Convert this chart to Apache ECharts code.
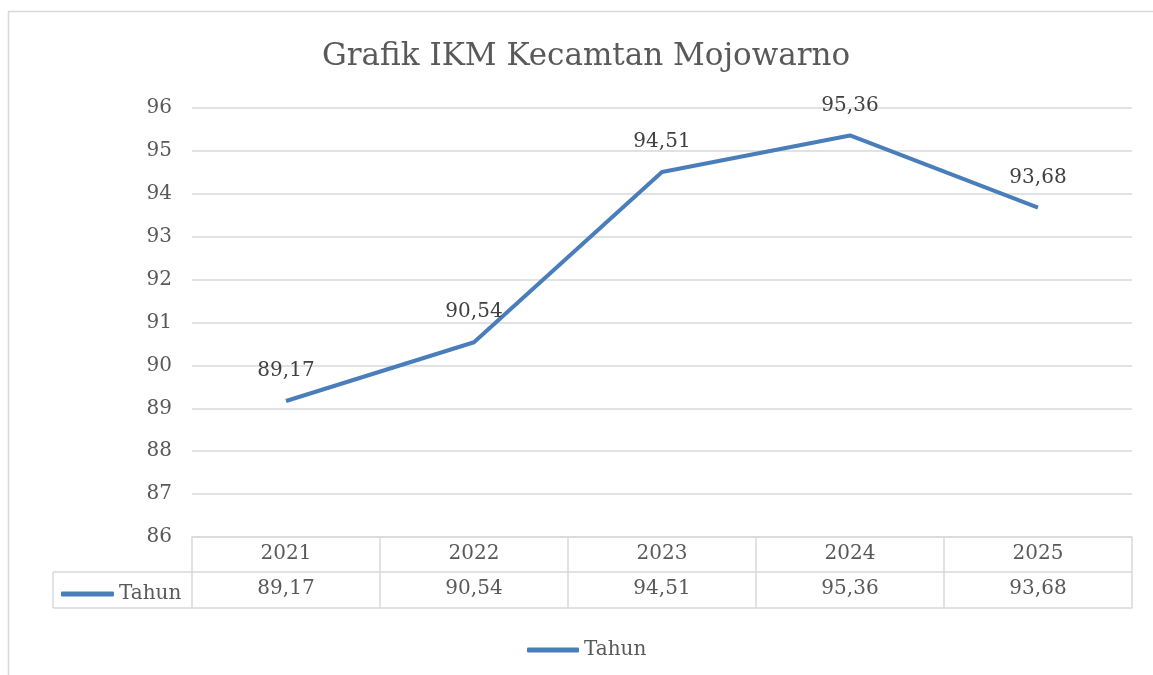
<!DOCTYPE html>
<html><head><meta charset="utf-8">
<script src="https://cdn.jsdelivr.net/npm/echarts@6/dist/echarts.min.js"></script>
<style>html,body{margin:0;padding:0;background:#fff}#c{width:1153px;height:675px}</style>
</head><body><div id="c"></div>
<script>
var categories = ['2021', '2022', '2023', '2024', '2025'];
var values = [89.17, 90.54, 94.51, 95.36, 93.68];
var seriesName = 'Tahun';
var titleText = 'Grafik IKM Kecamtan Mojowarno';

var FONT = 'DejaVu Serif';
var TXT = '#595959';
var GRID = '#d9d9d9';
var BLUE = '#4a7ebb';
function fmt(v){ return v.toFixed(2).replace('.', ','); }

var chart = echarts.init(document.getElementById('c'));
var gl = 192, gr = 21, gt = 108, gb = 138;
chart.setOption({
  backgroundColor: '#fff',
  animation: false,
  title: { text: titleText, left: 317, top: 36,
    textStyle: { fontFamily: FONT, fontSize: 31, fontWeight: 'normal', color: TXT } },
  grid: { left: gl, right: gr, top: gt, bottom: gb },
  legend: [
    { data: [seriesName], left: 56, top: 579, icon: 'roundRect', itemWidth: 53, itemHeight: 5, itemGap: 5,
      textStyle: { fontFamily: FONT, fontSize: 20, color: TXT } },
    { data: [seriesName], left: 522, top: 635, icon: 'roundRect', itemWidth: 52, itemHeight: 5,
      textStyle: { fontFamily: FONT, fontSize: 20, color: TXT } }
  ],
  xAxis: [
    { type: 'category', data: categories, position: 'bottom', boundaryGap: true,
      axisLine: { show: true, lineStyle: { color: GRID, width: 1.5 } },
      axisTick: { show: true, inside: false, length: 71, alignWithLabel: false, lineStyle: { color: GRID, width: 1.5 } },
      axisLabel: { margin: 7, fontFamily: FONT, fontSize: 20, color: TXT } },
    { type: 'category', data: values.map(fmt), position: 'bottom', offset: 35, boundaryGap: true,
      axisLine: { show: true, lineStyle: { color: GRID, width: 1.5 } },
      axisTick: { show: false },
      axisLabel: { margin: 7, fontFamily: FONT, fontSize: 20, color: TXT } },
    { type: 'category', data: categories, position: 'bottom', offset: 71, boundaryGap: true,
      axisLine: { show: true, lineStyle: { color: GRID, width: 1.5 } },
      axisTick: { show: false }, axisLabel: { show: false } }
  ],
  yAxis: { type: 'value', min: 86, max: 96, interval: 1,
    axisLine: { show: false }, axisTick: { show: false },
    splitLine: { lineStyle: { color: GRID, width: 1.5 } },
    axisLabel: { margin: 20, fontFamily: FONT, fontSize: 20, color: TXT } },
  series: [{
    name: seriesName, type: 'line', xAxisIndex: 0, data: values,
    symbol: 'circle', symbolSize: 0, showSymbol: true,
    lineStyle: { color: BLUE, width: 4 }, itemStyle: { color: BLUE },
    label: { show: true, position: 'top', distance: 20, formatter: function(p){ return fmt(p.value); },
      fontFamily: FONT, fontSize: 20, color: '#404040' }
  }],
  graphic: [
    { type: 'rect', shape: { x: 8.5, y: 11.5, width: 1200, height: 700 }, style: { fill: 'none', stroke: GRID, lineWidth: 1.5 }, silent: true },
    { type: 'line', shape: { x1: 53, y1: 572, x2: 192, y2: 572 }, style: { stroke: GRID, lineWidth: 1.5 } },
    { type: 'line', shape: { x1: 53, y1: 608, x2: 192, y2: 608 }, style: { stroke: GRID, lineWidth: 1.5 } },
    { type: 'line', shape: { x1: 53, y1: 572, x2: 53, y2: 608 }, style: { stroke: GRID, lineWidth: 1.5 } }
  ]
});
</script></body></html>
